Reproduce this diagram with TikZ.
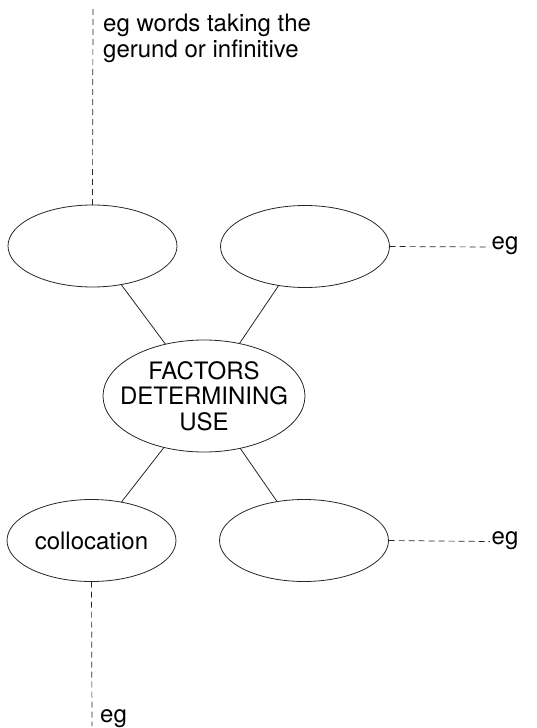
\documentclass[tikz,border=0pt]{standalone}
\usepackage{fontspec}
\setmainfont{TeX Gyre Heros}
\usetikzlibrary{shapes.geometric}

\tikzset{
  bubble/.style={ellipse, draw=black!85, line width=0.8pt, inner sep=0pt, outer sep=0pt},
  sidebubble/.style={bubble, minimum width=169pt, minimum height=82pt},
  hub/.style={bubble, minimum width=202pt, minimum height=112pt},
  spoke/.style={draw=black!85, line width=0.8pt},
  example/.style={draw=black!85, line width=0.7pt, dash pattern=on 6pt off 4pt},
  txt/.style={font=\fontsize{24}{25.5}\selectfont, inner sep=0pt}
}

\begin{document}
\begin{tikzpicture}[x=1pt,y=-1pt]
  \useasboundingbox (0,0) rectangle (537,728);

  % central factor and the four surrounding bubbles
  \node[hub, label={[txt, align=center, name=hubtext]center:FACTORS\\DETERMINING\\USE}] (hub) at (204,396) {};
  \node[sidebubble] (tl) at (92.5,246) {};
  \node[sidebubble] (tr) at (305,246.5) {};
  \node[sidebubble, label={[txt, name=colltext]center:collocation}] (bl) at (91.5,540.5) {};
  \node[sidebubble] (br) at (304,540.5) {};

  % spokes
  \draw[spoke] (tl) -- (hub);
  \draw[spoke] (tr) -- (hub);
  \draw[spoke] (bl) -- (hub);
  \draw[spoke] (br) -- (hub);

  % examples
  \node[txt, anchor=north west, align=left] (egtop) at (103,14) {eg words taking the\\gerund or infinitive};
  \coordinate (toptip) at (93,9);
  \draw[example] (toptip) -- (tl.north);

  \node[txt, anchor=mid west, inner sep=1.5pt] (egtr) at (490,247) {eg};
  \draw[example] (tr.east) -- (egtr.mid west);

  \node[txt, anchor=mid west, inner sep=1.5pt] (egbr) at (490,541.5) {eg};
  \draw[example] (br.east) -- (egbr.mid west);

  \node[txt, anchor=base west] (egbl) at (100,722) {eg};
  \coordinate (bottomtip) at (92,726);
  \draw[example] (bl.south) -- (bottomtip);
\end{tikzpicture}
\end{document}
